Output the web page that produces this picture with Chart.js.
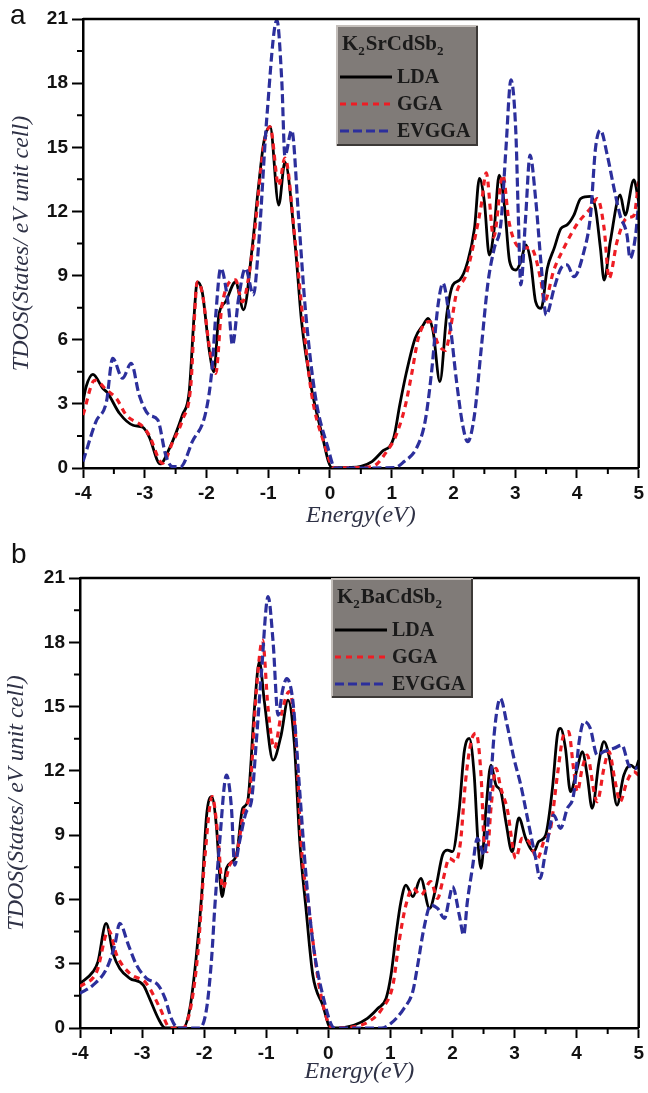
<!DOCTYPE html>
<html>
<head>
<meta charset="utf-8">
<script src="https://cdn.jsdelivr.net/npm/chart.js@4.4.1/dist/chart.umd.min.js"></script>
<style>
  body { margin: 0; background: #fff; }
  #wrap { position: relative; width: 648px; height: 1093px; }
  canvas { position: absolute; left: 0; }
</style>
</head>
<body>
<div id="wrap">
  <canvas id="chartA" width="648" height="540" style="top:0"></canvas>
  <canvas id="chartB" width="648" height="553" style="top:540px"></canvas>
</div>
<script>
// tick labels
const energyTicks = [-4, -3, -2, -1, 0, 1, 2, 3, 4, 5];
const dosTicks = [0, 3, 6, 9, 12, 15, 18, 21];
const seriesNames = ['LDA', 'GGA', 'EVGGA'];
const compoundA = ['K', '2', 'SrCdSb', '2'];
const compoundB = ['K', '2', 'BaCdSb', '2'];

// panel a : K2SrCdSb2
const aLdaE = [-4, -3.95, -3.84, -3.68, -3.6, -3.41, -3.19, -3.03, -2.93, -2.75, -2.6, -2.39, -2.28, -2.2, -2.15, -2.07, -1.95, -1.88, -1.8, -1.69,
  -1.53, -1.4, -1.26, -1.16, -1.07, -0.97, -0.83, -0.73, -0.56, -0.46, -0.3, -0.14, 0.03, 0.3, 0.5, 0.68, 0.84, 1.03, 1.13, 1.24,
  1.38, 1.51, 1.59, 1.67, 1.78, 1.89, 1.99, 2.1, 2.23, 2.34, 2.42, 2.5, 2.58, 2.66, 2.74, 2.83, 2.91, 3.01, 3.09, 3.17,
  3.25, 3.33, 3.42, 3.52, 3.63, 3.74, 3.84, 3.95, 4.06, 4.22, 4.3, 4.38, 4.44, 4.54, 4.7, 4.78, 4.92, 5.0];
const aLdaD = [3.1, 3.8, 4.38, 3.73, 3.5, 2.56, 2.0, 1.9, 1.47, 0.19, 0.92, 2.48, 3.57, 7.15, 8.7, 8.25, 5.4, 4.5, 7.15, 7.78,
  8.7, 7.4, 10.3, 13.1, 15.26, 15.96, 12.3, 14.3, 10.3, 6.85, 3.73, 1.7, 0.02, 0.03, 0.08, 0.3, 0.76, 1.39, 2.95, 4.5,
  6.07, 6.69, 7.0, 6.38, 4.04, 7.15, 8.56, 8.79, 9.65, 11.2, 13.55, 12.46, 9.96, 11.2, 13.7, 12.15, 9.65, 9.26, 9.65, 10.43,
  9.65, 7.78, 7.47, 9.34, 10.27, 11.2, 11.37, 11.83, 12.6, 12.7, 12.15, 10.27, 8.79, 10.6, 12.77, 11.83, 13.47, 12.46];

const aGgaE = [-4, -3.81, -3.6, -3.46, -3.3, -3.03, -2.93, -2.71, -2.55, -2.39, -2.25, -2.2, -2.15, -2.07, -1.95, -1.85, -1.75, -1.53, -1.42, -1.26,
  -1.07, -0.97, -0.83, -0.73, -0.56, -0.44, -0.3, -0.1, 0.07, 0.4, 0.68, 0.95, 1.05, 1.21, 1.32, 1.43, 1.54, 1.62, 1.75, 1.87,
  1.95, 2.05, 2.2, 2.35, 2.45, 2.53, 2.65, 2.8, 2.9, 3.09, 3.25, 3.42, 3.47, 3.63, 3.79, 4.0, 4.22, 4.33, 4.44, 4.52,
  4.65, 4.81, 4.92, 5.0];
const aGgaD = [2.48, 4.1, 3.6, 3.26, 2.48, 1.93, 1.54, 0.22, 1.2, 2.25, 4.0, 6.8, 8.7, 8.2, 5.6, 4.43, 7.6, 8.8, 7.78, 10.1,
  15.1, 15.96, 13.2, 14.5, 10.5, 7.0, 3.5, 1.2, 0.0, 0.02, 0.06, 0.9, 1.39, 2.79, 4.35, 6.07, 6.77, 6.85, 5.8, 5.5,
  6.5, 8.2, 9.0, 10.8, 12.3, 13.8, 10.8, 13.7, 11.5, 10.3, 10.3, 8.7, 7.78, 9.3, 10.3, 11.4, 12.15, 12.6, 11.2, 8.87,
  10.6, 11.7, 11.8, 13.4];

const aEvgE = [-4, -3.79, -3.62, -3.52, -3.36, -3.22, -3.09, -2.93, -2.79, -2.66, -2.55, -2.42, -2.23, -2.01, -1.91, -1.85, -1.77, -1.64, -1.58, -1.48,
  -1.37, -1.24, -1.16, -1.02, -0.86, -0.78, -0.73, -0.62, -0.51, -0.4, -0.24, -0.03, 0.08, 0.5, 1.05, 1.2, 1.4, 1.54, 1.64, 1.75,
  1.83, 1.94, 2.05, 2.15, 2.23, 2.34, 2.45, 2.56, 2.66, 2.77, 2.85, 2.93, 3.01, 3.05, 3.09, 3.17, 3.24, 3.33, 3.42, 3.5,
  3.63, 3.74, 3.84, 3.95, 4.11, 4.22, 4.3, 4.38, 4.49, 4.6, 4.7, 4.81, 4.86, 4.95, 5.0];
const aEvgD = [0.3, 2.17, 3.1, 5.13, 4.2, 4.9, 3.41, 2.48, 2.25, 0.6, 0.06, 0.06, 1.23, 2.63, 4.66, 7.15, 9.34, 7.47, 5.75, 7.94,
  9.34, 8.1, 10.27, 16.5, 20.95, 18.07, 14.6, 15.8, 11.8, 7.47, 3.41, 0.92, 0.0, 0.0, 0.02, 0.3, 0.92, 2.17, 4.35, 7.62,
  8.64, 6.84, 4.04, 2.0, 1.23, 2.48, 5.6, 8.7, 10.27, 11.5, 14.95, 18.15, 15.7, 11.8, 8.56, 11.8, 14.64, 12.6, 9.5, 7.15,
  8.4, 9.34, 9.5, 8.95, 10.1, 11.83, 14.95, 15.8, 14.64, 13.08, 11.8, 10.9, 9.8, 10.9, 12.46];

// panel b : K2BaCdSb2
const bLdaE = [-4, -3.79, -3.71, -3.58, -3.46, -3.36, -3.2, -2.98, -2.88, -2.74, -2.63, -2.34, -2.23, -2.13, -2.04, -1.96, -1.88, -1.8, -1.75, -1.71,
  -1.64, -1.48, -1.38, -1.3, -1.19, -1.11, -1.03, -0.89, -0.76, -0.65, -0.55, -0.46, -0.36, -0.25, -0.09, 0.04, 0.1, 0.42, 0.63, 0.8,
  0.93, 1.01, 1.09, 1.17, 1.25, 1.36, 1.49, 1.63, 1.73, 1.84, 1.92, 2.0, 2.11, 2.19, 2.27, 2.35, 2.41, 2.46, 2.54, 2.62,
  2.7, 2.78, 2.86, 2.96, 3.07, 3.18, 3.31, 3.39, 3.5, 3.61, 3.69, 3.74, 3.82, 3.9, 4.01, 4.09, 4.17, 4.25, 4.36, 4.44,
  4.54, 4.65, 4.76, 4.87, 4.95, 5.0];
const bLdaD = [2.08, 2.63, 3.1, 4.88, 3.41, 2.78, 2.32, 2.0, 1.38, 0.45, 0.0, 0.0, 0.92, 3.25, 6.2, 9.94, 10.8, 9.32, 7.14, 6.13,
  7.45, 8.07, 10.25, 10.56, 14.92, 17.1, 15.23, 12.5, 13.67, 15.3, 13.36, 8.7, 5.58, 2.47, 1.07, 0.0, 0.0, 0.14, 0.45, 0.92,
  1.38, 2.47, 4.34, 5.9, 6.67, 6.13, 6.98, 5.58, 6.52, 8.07, 8.3, 8.23, 10.25, 12.9, 13.52, 11.8, 8.7, 7.45, 10.25, 12.27,
  11.34, 11.03, 9.63, 8.23, 9.8, 8.85, 8.23, 8.7, 9.0, 11.18, 13.67, 13.98, 13.05, 11.03, 12.12, 12.9, 11.8, 10.25, 12.43, 13.36,
  12.43, 10.4, 11.8, 12.27, 12.12, 12.5];

const bGgaE = [-4, -3.73, -3.54, -3.41, -3.2, -2.93, -2.71, -2.55, -2.34, -2.21, -2.1, -1.99, -1.87, -1.78, -1.7, -1.59, -1.48, -1.35, -1.27, -1.16,
  -1.06, -0.97, -0.87, -0.76, -0.63, -0.52, -0.44, -0.3, -0.14, 0.07, 0.4, 0.69, 0.87, 1.04, 1.14, 1.25, 1.36, 1.49, 1.65, 1.76,
  1.84, 1.95, 2.05, 2.13, 2.21, 2.3, 2.38, 2.46, 2.51, 2.56, 2.62, 2.7, 2.78, 2.88, 3.02, 3.12, 3.23, 3.37, 3.47, 3.58,
  3.69, 3.79, 3.87, 3.95, 4.01, 4.09, 4.17, 4.28, 4.33, 4.44, 4.52, 4.62, 4.7, 4.81, 4.92, 5.0];
const bGgaD = [1.93, 2.63, 4.57, 3.41, 2.55, 2.08, 0.92, 0.0, 0.0, 1.07, 3.56, 7.92, 10.8, 9.0, 6.52, 7.6, 8.07, 10.25, 10.87, 15.7,
  18.1, 14.9, 13.05, 14.6, 15.7, 13.36, 8.7, 5.27, 1.85, 0.0, 0.05, 0.37, 0.92, 2.0, 4.03, 5.74, 6.52, 6.2, 6.83, 6.05,
  6.83, 7.92, 7.76, 8.7, 11.5, 13.36, 13.75, 11.8, 8.7, 8.23, 10.25, 12.12, 11.18, 10.25, 7.92, 8.85, 8.7, 7.92, 8.7, 9.32,
  11.8, 13.67, 13.83, 12.12, 11.03, 12.12, 12.74, 11.03, 10.56, 12.12, 12.9, 11.5, 10.56, 11.5, 11.96, 11.8];

const bEvgE = [-4, -3.79, -3.57, -3.44, -3.36, -3.22, -3.09, -2.93, -2.74, -2.63, -2.53, -2.42, -2.07, -1.96, -1.88, -1.83, -1.75, -1.64, -1.56, -1.51,
  -1.43, -1.32, -1.24, -1.16, -1.08, -0.97, -0.89, -0.81, -0.73, -0.67, -0.57, -0.46, -0.36, -0.25, -0.09, 0.1, 0.85, 1.01, 1.22, 1.36,
  1.44, 1.54, 1.65, 1.76, 1.87, 1.95, 2.0, 2.11, 2.18, 2.24, 2.32, 2.4, 2.51, 2.59, 2.67, 2.77, 2.88, 2.99, 3.1, 3.23,
  3.34, 3.41, 3.5, 3.63, 3.74, 3.85, 3.95, 4.04, 4.12, 4.22, 4.33, 4.44, 4.6, 4.73, 4.84, 4.95, 5.0];
const bEvgD = [1.62, 2.0, 2.78, 3.87, 4.88, 3.87, 2.94, 2.32, 2.0, 1.38, 0.45, 0.0, 0.0, 0.92, 3.25, 5.58, 8.7, 11.8, 10.25, 7.6,
  8.7, 10.1, 10.56, 13.36, 16.47, 20.13, 18.03, 14.6, 15.85, 16.3, 15.23, 11.03, 7.14, 4.03, 1.54, 0.0, 0.0, 0.22, 0.92, 1.7,
  2.94, 4.65, 5.74, 5.58, 5.12, 6.05, 6.6, 5.27, 4.34, 5.9, 7.45, 8.85, 8.07, 10.25, 13.67, 15.38, 14.14, 12.58, 11.34, 9.47,
  7.92, 6.98, 8.23, 9.94, 9.32, 10.25, 10.87, 13.36, 14.3, 13.98, 12.74, 12.9, 13.05, 13.2, 12.27, 12.12, 12.2];

const serif = '"Liberation Serif", "Times New Roman", serif';
const sans = '"Liberation Sans", Arial, sans-serif';

function toPoints(e, d) {
  const n = Math.min(e.length, d.length);
  const pts = [];
  for (let i = 0; i < n; i++) pts.push({ x: e[i], y: d[i] });
  return pts;
}

// frame, minor ticks, panel letter and the grey legend box
const framePlugin = {
  id: 'tdosFrame',
  afterDraw(chart, args, opts) {
    const ctx = chart.ctx;
    const a = chart.chartArea;
    const xs = chart.scales.x, ys = chart.scales.y;
    ctx.save();

    ctx.strokeStyle = '#000';
    ctx.lineWidth = 2;
    ctx.beginPath();
    for (let i = 0; i < energyTicks.length - 1; i++) {
      const px = xs.getPixelForValue((energyTicks[i] + energyTicks[i + 1]) / 2);
      ctx.moveTo(px, a.bottom);
      ctx.lineTo(px, a.bottom + 6);
    }
    for (let i = 0; i < dosTicks.length - 1; i++) {
      const py = ys.getPixelForValue((dosTicks[i] + dosTicks[i + 1]) / 2);
      ctx.moveTo(a.left - 6, py);
      ctx.lineTo(a.left, py);
    }
    ctx.stroke();

    ctx.lineWidth = 2.5;
    ctx.beginPath();
    ctx.moveTo(a.left, a.top);
    ctx.lineTo(a.right, a.top);
    ctx.lineTo(a.right, a.bottom);
    ctx.stroke();

    // panel letter
    ctx.fillStyle = '#111';
    ctx.font = '28px ' + sans;
    ctx.textBaseline = 'alphabetic';
    ctx.textAlign = 'left';
    ctx.fillText(opts.tag, opts.tagPos[0], opts.tagPos[1]);

    // legend box
    const [bx, by, bw, bh] = opts.box;
    ctx.fillStyle = '#807b78';
    ctx.fillRect(bx, by, bw, bh);
    ctx.lineWidth = 2;
    ctx.strokeStyle = '#c4bfbb';
    ctx.beginPath();
    ctx.moveTo(bx + 1, by + bh);
    ctx.lineTo(bx + 1, by + 1);
    ctx.lineTo(bx + bw, by + 1);
    ctx.stroke();
    ctx.strokeStyle = '#3c3937';
    ctx.beginPath();
    ctx.moveTo(bx + bw - 1, by + 1);
    ctx.lineTo(bx + bw - 1, by + bh - 1);
    ctx.lineTo(bx + 1, by + bh - 1);
    ctx.stroke();

    ctx.fillStyle = '#1a1a1a';
    let tx = bx + 6;
    opts.compound.forEach((seg, i) => {
      const sub = i % 2 === 1;
      ctx.font = (sub ? 'bold 13px ' : 'bold 21px ') + serif;
      ctx.fillText(seg, tx, by + 25 + (sub ? 5 : 0));
      tx += ctx.measureText(seg).width + (sub ? 1 : 0);
    });

    ctx.font = 'bold 20px ' + serif;
    chart.data.datasets.forEach((ds, i) => {
      const base = by + 58 + i * 27;
      ctx.strokeStyle = ds.borderColor;
      ctx.lineWidth = ds.borderWidth;
      ctx.setLineDash(ds.borderDash || []);
      ctx.beginPath();
      ctx.moveTo(bx + 4, base - 6);
      ctx.lineTo(bx + 56, base - 6);
      ctx.stroke();
      ctx.setLineDash([]);
      ctx.fillText(ds.label, bx + 61, base);
    });
    ctx.restore();
  }
};

function buildChart(id, p) {
  return new Chart(document.getElementById(id), {
    type: 'line',
    data: {
      datasets: [
        { label: seriesNames[0], data: toPoints(p.lda[0], p.lda[1]), borderColor: '#000000', borderWidth: 2.8, order: 3 },
        { label: seriesNames[1], data: toPoints(p.gga[0], p.gga[1]), borderColor: '#ee1d24', borderWidth: 3.2, borderDash: [6, 5], order: 2 },
        { label: seriesNames[2], data: toPoints(p.evg[0], p.evg[1]), borderColor: '#2c2f9c', borderWidth: 3.2, borderDash: [9, 4], order: 1 }
      ]
    },
    options: {
      responsive: false,
      animation: false,
      elements: {
        point: { radius: 0 },
        line: { cubicInterpolationMode: 'monotone', fill: false }
      },
      layout: { padding: { top: p.padTop, right: p.padRight, left: 0, bottom: 0 } },
      plugins: {
        legend: { display: false },
        tooltip: { enabled: false },
        tdosFrame: { box: p.box, compound: p.compound, tag: p.tag, tagPos: p.tagPos }
      },
      scales: {
        x: {
          type: 'linear',
          min: -4,
          max: 5,
          afterBuildTicks: s => { s.ticks = energyTicks.map(v => ({ value: v })); },
          afterFit: s => { s.height = p.xHeight; },
          ticks: {
            color: '#111',
            font: { family: sans, size: 19, weight: 'bold' },
            padding: 4,
            maxRotation: 0,
            autoSkip: false
          },
          grid: { drawOnChartArea: false, drawTicks: true, tickLength: 10, tickWidth: 2, tickColor: '#000' },
          border: { display: true, color: '#000', width: 2.5 },
          title: {
            display: true,
            text: 'Energy(eV)',
            color: '#2f3246',
            font: { family: serif, size: 24, style: 'italic' },
            padding: { top: 0, bottom: p.xTitlePad }
          }
        },
        y: {
          min: 0,
          max: 21,
          afterBuildTicks: s => { s.ticks = dosTicks.map(v => ({ value: v })); },
          afterFit: s => { s.width = p.yWidth; },
          ticks: {
            color: '#111',
            font: { family: sans, size: 19, weight: 'bold' },
            padding: 4
          },
          grid: { drawOnChartArea: false, drawTicks: true, tickLength: 11, tickWidth: 2, tickColor: '#000' },
          border: { display: true, color: '#000', width: 2.5 },
          title: {
            display: true,
            text: 'TDOS(States/ eV unit cell)',
            color: '#2f3246',
            font: { family: serif, size: 24, style: 'italic' },
            padding: { top: p.yTitlePad, bottom: 0 }
          }
        }
      }
    },
    plugins: [framePlugin]
  });
}

buildChart('chartA', {
  lda: [aLdaE, aLdaD], gga: [aGgaE, aGgaD], evg: [aEvgE, aEvgD],
  padTop: 19, padRight: 6, xHeight: 72, yWidth: 83, xTitlePad: 10, yTitlePad: 7,
  box: [336, 25, 142, 121], compound: compoundA, tag: 'a', tagPos: [10, 24]
});

buildChart('chartB', {
  lda: [bLdaE, bLdaD], gga: [bGgaE, bGgaD], evg: [bEvgE, bEvgD],
  padTop: 38, padRight: 8, xHeight: 65, yWidth: 80, xTitlePad: 7, yTitlePad: 2,
  box: [331, 38, 142, 120], compound: compoundB, tag: 'b', tagPos: [11, 23]
});
</script>
</body>
</html>
